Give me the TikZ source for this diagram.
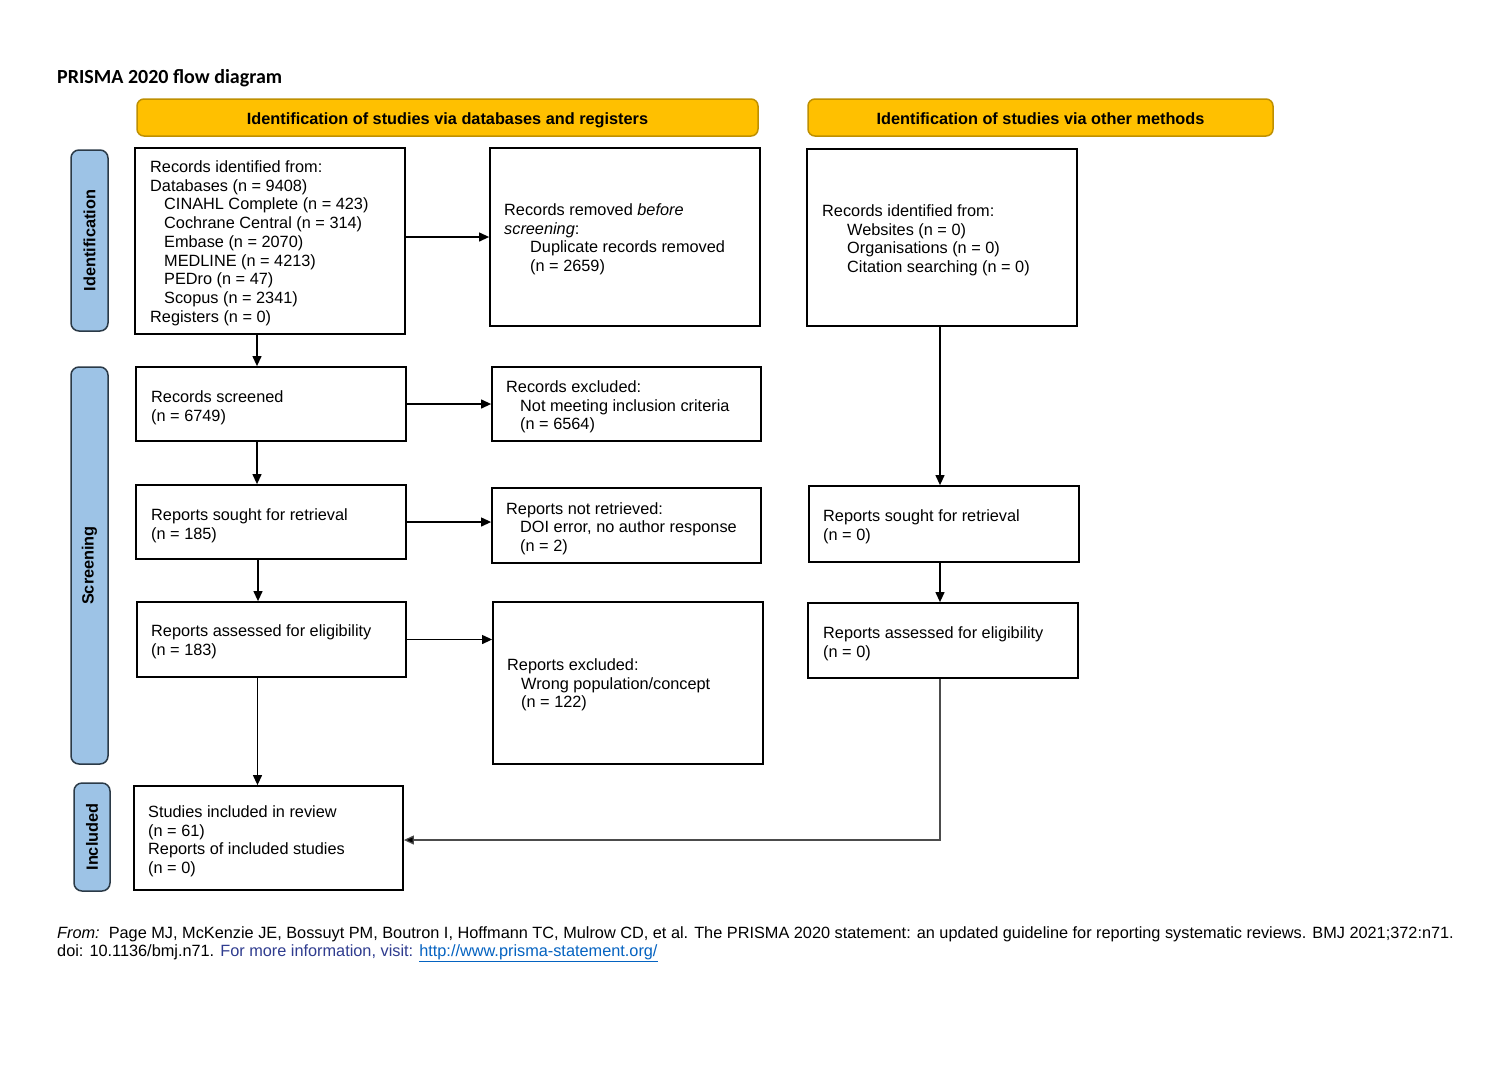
\documentclass[tikz,border=0pt]{standalone}
\usepackage{fontspec}
\setmainfont{Liberation Sans}
\newfontfamily\titlefont{Carlito}
\usetikzlibrary{arrows.meta}
\definecolor{hdrfill}{HTML}{FFC000}
\definecolor{hdrdraw}{HTML}{BF9000}
\definecolor{barfill}{HTML}{9DC3E6}
\definecolor{bardraw}{HTML}{2B3A47}
\definecolor{infoblue}{HTML}{2F3C8F}
\definecolor{linkblue}{HTML}{0563C1}
\begin{document}
\begin{tikzpicture}[x=1pt,y=-1pt,
  box/.style={draw, line width=1.8pt, inner sep=0pt},
  hdr/.style={draw=hdrdraw, fill=hdrfill, line width=1.5pt, rounded corners=7pt, font=\fontsize{16.3}{19}\selectfont\bfseries, inner sep=0pt, text height=14pt, text depth=1pt},
  bar/.style={draw=bardraw, fill=barfill, line width=1.5pt, rounded corners=8pt, font=\fontsize{16.3}{19}\selectfont\bfseries, inner sep=0pt, rotate=90},
  txt/.style={anchor=north west, align=left, inner sep=0pt, font=\fontsize{16.3}{18.7}\selectfont},
  arr/.style={line width=1.2pt, -{Triangle[length=10pt,width=9pt]}},
]
\useasboundingbox[fill=white] (0,0) rectangle (1507,1080);

% title
\node[anchor=base west, inner sep=0pt, font=\titlefont\fontsize{20}{24}\selectfont\bfseries] (title) at (57,83) {PRISMA 2020 flow diagram};

% headers
\node[hdr, minimum width=621pt, minimum height=37pt] (h1) at (447.5,117.5) {Identification of studies via databases and registers};
\node[hdr, minimum width=465pt, minimum height=37pt] (h2) at (1040.5,117.5) {Identification of studies via other methods};

% side bars
\node[bar, minimum width=181pt, minimum height=37pt] (sid) at (89.5,240.5) {Identification};
\node[bar, minimum width=397pt, minimum height=37pt] (ssc) at (89.5,565.5) {Screening};
\node[bar, minimum width=108pt, minimum height=36pt] (sin) at (92,837) {Included};

% boxes
\node[box, minimum width=270pt, minimum height=186pt] (b1) at (270,241) {};
\node[box, minimum width=270pt, minimum height=178pt] (b2) at (625,237) {};
\node[box, minimum width=270pt, minimum height=177pt] (b3) at (942,237.5) {};
\node[box, minimum width=270pt, minimum height=74pt] (b4) at (271,404) {};
\node[box, minimum width=269pt, minimum height=74pt] (b5) at (626.5,404) {};
\node[box, minimum width=270pt, minimum height=74pt] (b6) at (271,522) {};
\node[box, minimum width=269pt, minimum height=75pt] (b7) at (626.5,525.5) {};
\node[box, minimum width=269pt, minimum height=75pt] (b8) at (271.5,639.5) {};
\node[box, minimum width=270pt, minimum height=162pt] (b9) at (628,683) {};
\node[box, minimum width=270pt, minimum height=76pt] (b10) at (944,524) {};
\node[box, minimum width=270pt, minimum height=75pt] (b11) at (943,640.5) {};
\node[box, minimum width=269pt, minimum height=104pt] (b12) at (268.5,838) {};

% box texts
\node[txt] (t1) at (150,160.5) {Records identified from:\\Databases (n = 9408)\\\hspace*{14pt}CINAHL Complete (n = 423)\\\hspace*{14pt}Cochrane Central (n = 314)\\\hspace*{14pt}Embase (n = 2070)\\\hspace*{14pt}MEDLINE (n = 4213)\\\hspace*{14pt}PEDro (n = 47)\\\hspace*{14pt}Scopus (n = 2341)\\Registers (n = 0)};
\node[txt] (t2) at (504,203.5) {Records removed \textit{before}\\\textit{screening}:\\\hspace*{26pt}Duplicate records removed\\\hspace*{26pt}(n = 2659)};
\node[txt] (t3) at (822,204.5) {Records identified from:\\\hspace*{25pt}Websites (n = 0)\\\hspace*{25pt}Organisations (n = 0)\\\hspace*{25pt}Citation searching (n = 0)};
\node[txt] (t4) at (151,390.5) {Records screened\\(n = 6749)};
\node[txt] (t5) at (506,380.5) {Records excluded:\\\hspace*{14pt}Not meeting inclusion criteria\\\hspace*{14pt}(n = 6564)};
\node[txt] (t6) at (151,508.5) {Reports sought for retrieval\\(n = 185)};
\node[txt] (t7) at (506,502) {Reports not retrieved:\\\hspace*{14pt}DOI error, no author response\\\hspace*{14pt}(n = 2)};
\node[txt] (t8) at (151,624.5) {Reports assessed for eligibility\\(n = 183)};
\node[txt] (t9) at (507,658.5) {Reports excluded:\\\hspace*{14pt}Wrong population/concept\\\hspace*{14pt}(n = 122)};
\node[txt] (t10) at (823,509.5) {Reports sought for retrieval\\(n = 0)};
\node[txt] (t11) at (823,626.5) {Reports assessed for eligibility\\(n = 0)};
\node[txt] (t12) at (148,805.5) {Studies included in review\\(n = 61)\\Reports of included studies\\(n = 0)};

% connectors
\draw[arr] (b1.east |- b2.west) -- (b2.west);
\draw[arr] (b4.east) -- (b5.west);
\draw[arr] (b6.east) -- (b6.east -| b7.west);
\draw[arr] (b8.east) -- (b8.east -| b9.west);
\draw[arr] ([xshift=-13pt]b1.south) -- ([xshift=-14pt]b4.north);
\draw[arr] ([xshift=-14pt]b4.south) -- ([xshift=-14pt]b6.north);
\draw[arr] ([xshift=-13pt]b6.south) -- ([xshift=-13pt]b6.south |- b8.north);
\draw[arr] ([xshift=-14pt]b8.south) -- ([xshift=-14pt]b8.south |- b12.north);
\draw[arr] ([xshift=-2pt]b3.south) -- ([xshift=-2pt]b3.south |- b10.north);
\draw[arr] ([xshift=-4pt]b10.south) -- ([xshift=-4pt]b10.south |- b11.north);
\draw[line width=1.2pt, draw=black!70, -{Triangle[length=10pt,width=9pt,fill=black]}] ([xshift=-3pt]b11.south) |- ([yshift=-2pt]b12.east);

% footer
\node[anchor=north west, align=left, inner sep=0pt, font=\fontsize{16.3}{18}\selectfont] (foot) at (57,926.5) {\textit{From:}\ \ Page MJ, McKenzie JE, Bossuyt PM, Boutron I, Hoffmann TC, Mulrow CD, et al. The PRISMA 2020 statement: an updated guideline for reporting systematic reviews. BMJ 2021;372:n71.\\doi: 10.1136/bmj.n71. \textcolor{infoblue}{For more information, visit: }\textcolor{linkblue}{\underline{http://www.prisma-statement.org/}}};
\end{tikzpicture}
\end{document}
